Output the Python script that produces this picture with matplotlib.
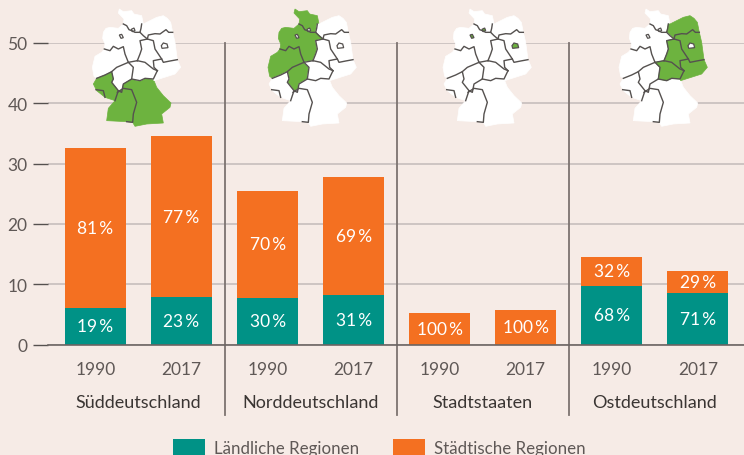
import matplotlib
matplotlib.use("Agg")
from matplotlib import pyplot as plt
from matplotlib.patches import Polygon
from matplotlib.transforms import blended_transform_factory

plt.rcParams['font.family'] = ['Lato', 'DejaVu Sans']

# data
groups = ["Süddeutschland", "Norddeutschland", "Stadtstaaten", "Ostdeutschland"]
years = ["1990", "2017", "1990", "2017", "1990", "2017", "1990", "2017"]
rural = [6.1, 7.9, 7.7, 8.2, 0, 0, 9.8, 8.5]
urban = [26.4, 26.6, 17.8, 19.6, 5.3, 5.8, 4.8, 3.7]
rural_labels = ["19", "23", "30", "31", None, None, "68", "71"]
urban_labels = ["81", "77", "70", "69", "100", "100", "32", "29"]

BG = "#f6ebe6"
TEAL = "#009286"
ORANGE = "#f47021"
GREEN = "#6db33f"
BORDER = "#55514f"

# map sketch, units are 1/3 pixel
regions = {
    "SH": [(178, 30), (190, 38), (215, 35), (222, 45), (245, 50), (250, 75), (245, 88), (240, 100), (225, 100),
           (215, 95), (200, 80), (190, 75), (192, 60), (175, 42)],
    "MV": [(245, 75), (250, 75), (270, 65), (290, 55), (310, 50), (322, 58), (332, 70), (335, 85), (338, 100),
           (318, 92), (300, 105), (265, 108), (262, 120), (245, 105), (240, 100)],
    "NI": [(130, 100), (138, 88), (150, 85), (175, 88), (190, 75), (200, 80), (215, 95), (225, 100), (240, 100),
           (262, 120), (240, 125), (245, 150), (240, 165), (232, 185), (205, 190), (195, 165), (190, 143),
           (175, 150), (160, 142), (150, 155), (133, 150), (135, 135), (128, 118)],
    "NW": [(133, 150), (150, 155), (160, 142), (175, 150), (190, 143), (195, 165), (205, 190), (170, 205),
           (155, 218), (135, 228), (110, 238), (102, 232), (97, 205), (105, 172), (125, 160)],
    "HE": [(170, 205), (205, 190), (220, 205), (215, 240), (190, 255), (185, 280), (175, 275), (155, 250),
           (160, 240), (155, 218)],
    "RP": [(110, 238), (135, 228), (155, 218), (160, 240), (155, 250), (175, 275), (172, 280), (165, 305),
           (135, 295), (110, 275), (100, 255)],
    "BW": [(165, 305), (172, 280), (190, 268), (215, 272), (230, 310), (220, 345), (218, 370), (200, 368),
           (140, 365), (145, 328)],
    "BY": [(190, 255), (215, 240), (240, 245), (255, 238), (280, 240), (290, 265), (310, 290), (333, 312),
           (330, 325), (305, 345), (310, 372), (260, 375), (225, 382), (218, 370), (220, 345), (230, 310),
           (215, 272), (190, 268), (185, 280)],
    "BB": [(265, 108), (300, 105), (318, 92), (338, 100), (345, 130), (352, 182), (310, 190), (305, 180),
           (285, 150), (280, 125), (262, 120)],
    "ST": [(262, 120), (280, 125), (285, 150), (305, 180), (280, 185), (282, 205), (292, 215), (280, 210),
           (255, 190), (232, 185), (240, 165), (245, 150), (240, 125)],
    "SN": [(305, 180), (310, 190), (352, 182), (362, 205), (345, 225), (282, 245), (280, 240), (292, 215),
           (282, 205), (280, 185)],
    "TH": [(232, 185), (255, 190), (280, 210), (292, 215), (280, 240), (255, 238), (240, 245), (215, 240),
           (220, 205), (205, 190)],
}
city_rings = {
    "HH": [(214, 91), (222, 87), (225, 95), (217, 98)],
    "HB": [(178, 108), (185, 106), (190, 116), (183, 118)],
    "BE": [(304, 140), (310, 132), (321, 135), (324, 146), (306, 148)],
}
inner_borders = [
    [(190, 75), (200, 80), (207, 92), (215, 95), (225, 100), (240, 100), (243, 88), (245, 75)],
    [(240, 100), (250, 110), (262, 120), (265, 108), (285, 104), (300, 105), (318, 92), (326, 100), (338, 100)],
    [(262, 120), (240, 125), (245, 150), (240, 165), (232, 185)],
    [(262, 120), (280, 125), (285, 150), (305, 180), (310, 190), (330, 186), (352, 182)],
    [(305, 180), (280, 185), (282, 205), (292, 215)],
    [(133, 150), (150, 155), (160, 142), (175, 150), (190, 143), (195, 165), (205, 190)],
    [(232, 185), (205, 190), (170, 205), (155, 218), (135, 228), (110, 238)],
    [(155, 218), (160, 240), (155, 250), (175, 275)],
    [(205, 190), (220, 205), (215, 240), (190, 255), (185, 280), (175, 275), (165, 305)],
    [(215, 240), (240, 245), (255, 238), (280, 240), (292, 215)],
    [(232, 185), (255, 190), (280, 210), (292, 215)],
    [(108, 272), (130, 275), (135, 295)],
    [(172, 280), (190, 268), (215, 272), (230, 310), (220, 345), (218, 370), (200, 368)],
]
map_shift = [0, 527, 1052, 1580]
map_green = [["RP", "BW", "BY"], ["SH", "NI", "NW", "HE"], ["HH", "HB", "BE"], ["MV", "BB", "ST", "SN", "TH"]]

fig = plt.figure(figsize=(7.44, 4.56), dpi=100, facecolor=BG)
ax = fig.add_axes([48 / 744, (456 - 345.7) / 456, (744 - 48) / 744, 302 / 456], facecolor=BG)

x = list(range(len(years)))
ax.bar(x, rural, width=0.708, color=TEAL, zorder=3, label="Ländliche Regionen")
ax.bar(x, urban, width=0.708, bottom=rural, color=ORANGE, zorder=3, label="Städtische Regionen")

for i in x:
    if rural_labels[i] is not None:
        ax.text(i, rural[i] / 2, rural_labels[i] + "\u2009%", color="white", ha="center", va="center",
                fontsize=12.5, zorder=4)
    ax.text(i, rural[i] + urban[i] / 2, urban_labels[i] + "\u2009%", color="white", ha="center", va="center",
            fontsize=12.5, zorder=4)

ax.set_xlim((48 - 95.5) / 86.05, (744 - 95.5) / 86.05)
ax.set_ylim(0, 50)
ax.set_yticks([0, 10, 20, 30, 40, 50])
ax.set_xticks(x)
ax.set_xticklabels(years)
ax.tick_params(axis='y', length=10.8, width=1, color="#55514f", labelsize=12.5, labelcolor="#5f5856", pad=4)
ax.tick_params(axis='x', length=0, labelsize=12.5, labelcolor="#5f5856", pad=11.5)
ax.grid(True, axis='y', color="#c6bebd", linewidth=1.2, zorder=0)
ax.set_axisbelow(True)
for s in ax.spines.values():
    s.set_visible(False)
ax.axhline(0, color="#6b6462", linewidth=1.2, zorder=5, clip_on=False)

# separators run down through the labels
for sep in [1.5, 3.5, 5.5]:
    ax.axvline(sep, ymin=-70 / 302, ymax=1, color="#7d7370", linewidth=1.3, clip_on=False, zorder=2)

trans = blended_transform_factory(ax.transData, ax.transAxes)
for k, name in enumerate(groups):
    ax.text(2 * k + 0.5, -57 / 302, name, transform=trans, ha="center", va="center", fontsize=13, color="#3a3533")

handles, labels = ax.get_legend_handles_labels()
fig.legend(handles, labels, loc="lower left", bbox_to_anchor=(158 / 744, -16 / 456), ncol=2, frameon=False,
           fontsize=12.2, labelcolor="#5f5856", handlelength=1.87, handleheight=1.0, handletextpad=0.55,
           columnspacing=2.0, borderpad=0.4)

# maps on top, in pixel coordinates
mp = fig.add_axes([0, 0, 1, 1], facecolor="none")
mp.set_xlim(0, 744)
mp.set_ylim(456, 0)
mp.axis("off")


def to_px(pts, shift):
    return [(60 + (px + shift) / 3, py / 3) for px, py in pts]


for shift, green in zip(map_shift, map_green):
    for name, pts in regions.items():
        color = GREEN if name in green else "white"
        mp.add_patch(Polygon(to_px(pts, shift), closed=True, facecolor=color, edgecolor=color, linewidth=0.5))
    for line in inner_borders:
        pts = to_px(line, shift)
        mp.plot([p[0] for p in pts], [p[1] for p in pts], color=BORDER, linewidth=1.0)
    for name, pts in city_rings.items():
        color = GREEN if name in green else "white"
        mp.add_patch(Polygon(to_px(pts, shift), closed=True, facecolor=color, edgecolor=BORDER, linewidth=0.9))

fig.savefig("out.png", dpi=100, facecolor=BG)
